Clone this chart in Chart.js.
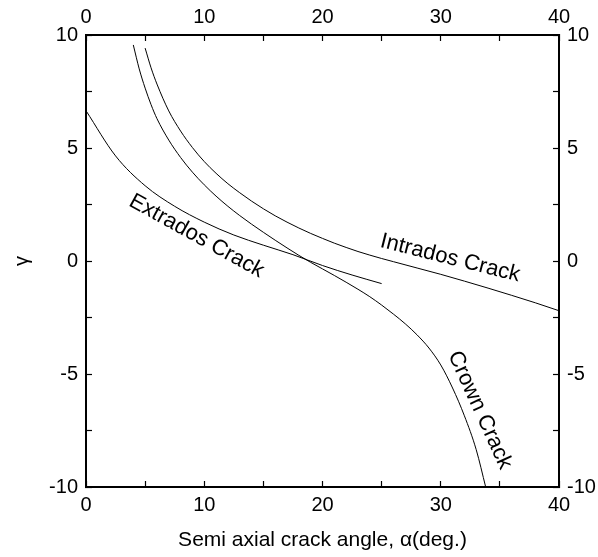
<!DOCTYPE html>
<html>
<head>
<meta charset="utf-8">
<script src="https://cdn.jsdelivr.net/npm/chart.js@4/dist/chart.umd.min.js"></script>
<style>
  body { margin: 0; background: #fff; }
  #wrap { width: 598px; height: 557px; }
</style>
</head>
<body>
<div id="wrap"><canvas id="crackChart"></canvas></div>
<script>
// semi axial crack angle (deg) vs gamma
const extradosAngle = [0, 2.5, 5, 7.5, 10, 12.5, 15, 17.5, 20, 22.5, 25];
const extradosGamma = [6.65, 4.65, 3.33, 2.42, 1.72, 1.15, 0.7, 0.28, -0.2, -0.62, -1.0];

const intradosAngle = [5, 5.5, 6, 7, 8, 9, 10, 11, 12, 13, 14, 15, 16, 17, 18, 19, 20, 21, 22, 23, 24, 25, 26, 28, 30, 32, 34, 36, 38, 40];
const intradosGamma = [9.42, 8.55, 7.83, 6.64, 5.75, 5.02, 4.4, 3.88, 3.42, 3.02, 2.65, 2.31, 2.0, 1.72, 1.46, 1.22, 1.0, 0.79, 0.6, 0.42, 0.26, 0.11, -0.03, -0.31, -0.59, -0.89, -1.2, -1.52, -1.85, -2.2];

const crownAngle = [4, 4.5, 5, 5.5, 6, 7, 8, 9, 10, 11, 12, 13, 14, 15, 16, 17, 18, 19, 20, 21, 22, 23, 24, 25, 26, 27, 28, 29, 30, 31, 32, 33, 33.8];
const crownGamma = [9.56, 8.5, 7.65, 6.92, 6.3, 5.35, 4.58, 3.93, 3.37, 2.87, 2.42, 2.01, 1.63, 1.27, 0.92, 0.58, 0.25, -0.06, -0.35, -0.64, -0.94, -1.25, -1.58, -1.95, -2.35, -2.78, -3.27, -3.85, -4.6, -5.62, -6.85, -8.35, -10];

// curve labels (data coords + tilt in degrees)
const curveLabels = ['Extrados Crack', 'Intrados Crack', 'Crown Crack'];
const curveLabelX = [9.35, 30.8, 33.3];
const curveLabelY = [1.1, 0.12, -6.6];
const curveLabelTilt = [29, 14, 65.5];

const xTicks = { min: 0, max: 40, step: 5, labelEvery: 10 };
const yTicks = { min: -10, max: 10, step: 2.5, labelEvery: 5 };

const fontFamily = '"Liberation Sans", Arial, sans-serif';

function toPoints(xs, ys) {
  return xs.map((x, i) => ({ x: x, y: ys[i] }));
}

function lineSet(label, xs, ys) {
  return {
    label: label,
    data: toPoints(xs, ys),
    showLine: true,
    borderColor: '#000',
    borderWidth: 1,
    pointRadius: 0,
    cubicInterpolationMode: 'monotone',
    xAxisID: 'x',
    yAxisID: 'y'
  };
}

function axis(position, range, size, padding, title) {
  const horizontal = position === 'top' || position === 'bottom';
  return {
    type: 'linear',
    position: position,
    min: range.min,
    max: range.max,
    afterBuildTicks: (scale) => {
      const ticks = [];
      for (let v = range.min; v <= range.max + 1e-9; v += range.step) ticks.push({ value: v });
      scale.ticks = ticks;
    },
    afterFit: (scale) => {
      if (horizontal) scale.height = size; else scale.width = size;
    },
    ticks: {
      autoSkip: false,
      maxRotation: 0,
      padding: padding,
      color: '#000',
      font: { family: fontFamily, size: 20 },
      callback: (v) => Math.abs(v % range.labelEvery) < 1e-6 ? String(Math.round(v)) : ''
    },
    grid: {
      drawOnChartArea: false,
      drawTicks: true,
      tickLength: -6,
      tickColor: '#000',
      tickWidth: 1.2
    },
    border: { color: '#000', width: 2 },
    title: title || { display: false }
  };
}

const curveLabelPlugin = {
  id: 'curveLabels',
  afterDatasetsDraw(chart) {
    const ctx = chart.ctx;
    const xs = chart.scales.x, ys = chart.scales.y;
    ctx.save();
    ctx.fillStyle = '#000';
    ctx.font = '22px ' + fontFamily;
    ctx.textAlign = 'center';
    ctx.textBaseline = 'middle';
    curveLabels.forEach((txt, i) => {
      ctx.save();
      ctx.translate(xs.getPixelForValue(curveLabelX[i]), ys.getPixelForValue(curveLabelY[i]));
      ctx.rotate(curveLabelTilt[i] * Math.PI / 180);
      ctx.fillText(txt, 0, 0);
      ctx.restore();
    });
    ctx.restore();
  }
};

const ctx = document.getElementById('crackChart').getContext('2d');
new Chart(ctx, {
  type: 'scatter',
  data: {
    datasets: [
      lineSet('Extrados Crack', extradosAngle, extradosGamma),
      lineSet('Intrados Crack', intradosAngle, intradosGamma),
      lineSet('Crown Crack', crownAngle, crownGamma)
    ]
  },
  options: {
    responsive: true,
    maintainAspectRatio: false,
    animation: false,
    layout: { padding: 0 },
    plugins: {
      legend: { display: false },
      tooltip: { enabled: false }
    },
    scales: {
      x: axis('bottom', xTicks, 70, 12, {
        display: true,
        text: 'Semi axial crack angle, α(deg.)',
        color: '#000',
        font: { family: fontFamily, size: 21 },
        padding: { top: 0, bottom: 4 }
      }),
      x2: axis('top', xTicks, 35, 12),
      y: axis('left', yTicks, 86, 14, {
        display: true,
        text: 'γ',
        color: '#000',
        font: { family: fontFamily, size: 20 },
        padding: { top: 10, bottom: 0 }
      }),
      y2: axis('right', yTicks, 39, 14)
    }
  },
  plugins: [curveLabelPlugin]
});
</script>
</body>
</html>
